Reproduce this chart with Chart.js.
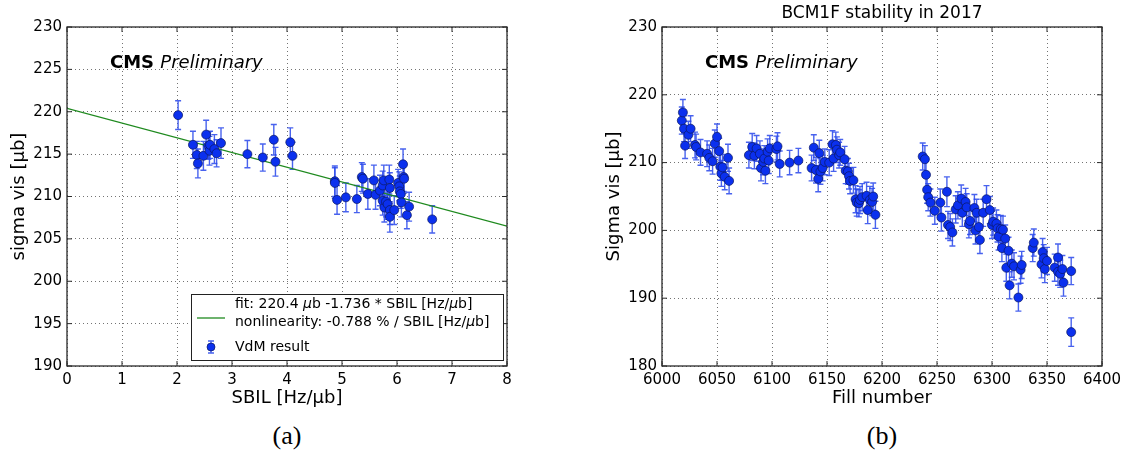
<!DOCTYPE html>
<html><head><meta charset="utf-8">
<script src="https://cdn.jsdelivr.net/npm/chart.js@4/dist/chart.umd.min.js"></script>
<style>
html,body{margin:0;padding:0;background:#fff;overflow:hidden;}
#wrap{position:relative;width:1127px;height:451px;background:#fff;}
canvas{position:absolute;top:0;}
.cap{position:absolute;font-family:"Liberation Serif","Times New Roman",serif;font-size:26px;color:#000;transform:translateX(-50%);top:421px;line-height:30px;}
</style></head><body>
<div id="wrap">
<canvas id="ca" width="560" height="420" style="left:0px;width:560px;height:420px"></canvas>
<canvas id="cb" width="567" height="420" style="left:560px;width:567px;height:420px"></canvas>
<div class="cap" style="left:287px">(a)</div>
<div class="cap" style="left:882px">(b)</div>
</div>
<script>
// ---------- Panel (a): sigma vis vs SBIL ----------
const sbil = [2.02,2.29,2.36,2.38,2.48,2.53,2.57,2.59,2.60,2.68,2.72,2.80,3.28,3.56,3.76,3.79,4.06,4.10,
  4.87,4.87,4.91,5.07,5.27,5.36,5.38,5.47,5.58,5.61,5.69,5.74,5.76,5.74,5.77,5.80,5.83,5.86,5.87,5.87,5.87,
  5.95,6.02,6.04,6.05,6.07,6.08,6.11,6.12,6.13,6.18,6.22,6.64];
const sigmaA = [219.6,216.1,214.9,213.9,214.8,217.3,216.0,215.4,216.1,215.6,215.1,216.3,215.0,214.6,216.7,214.1,216.4,214.8,
  211.8,211.6,209.6,209.9,209.7,212.3,212.1,210.3,211.9,210.2,210.7,211.3,211.9,209.5,208.7,209.4,209.1,212.0,211.0,208.4,207.6,
  208.4,211.6,211.2,210.6,210.3,209.3,213.8,212.3,212.1,207.8,208.8,207.3];
const errA = [1.7,1.6,1.6,1.7,1.7,1.7,1.6,1.7,1.6,1.7,1.6,1.8,1.6,1.6,1.8,1.7,1.7,1.6,
  1.8,1.8,1.7,1.7,1.6,1.7,1.7,1.8,1.8,1.7,1.8,1.7,1.8,1.7,1.7,1.8,1.8,1.7,1.8,1.7,1.8,
  1.7,1.6,1.7,1.8,1.7,1.7,1.8,1.7,1.7,1.6,1.7,1.6];
const fitIntercept = 220.4, fitSlope = -1.736;
const ticksA_x = [0,1,2,3,4,5,6,7,8];
const ticksA_y = [190,195,200,205,210,215,220,225,230];

// ---------- Panel (b): sigma vis vs fill number ----------
const fills = [6018,6019,6020,6021,6024,6026,6030,6031,6035,6041,6043,6046,6048,6050,6052,6053,6054,6055,6057,6060,6061,
  6079,6082,6084,6086,6089,6090,6092,6093,6094,6096,6097,6098,6104,6105,6107,6116,6124,
  6136,6138,6140,6142,6143,6144,6146,6148,6152,6155,6156,6158,6159,6161,6162,6166,6167,6169,6170,6171,6174,
  6176,6177,6179,6180,6182,6186,6187,6189,6191,6192,6194,
  6237,6239,6240,6241,6242,6244,6248,6253,6254,6259,6260,6262,6264,6267,6269,6272,6273,6276,6277,6279,6280,
  6284,6285,6286,6288,6289,6292,6295,6298,6300,6301,6304,6305,6306,6308,6309,6310,6312,6313,6315,6316,6318,6320,
  6324,6326,6327,6337,6338,6345,6346,6347,6348,6350,6357,6360,6360,6362,6364,6365,6372,6372];
const sigmaB = [216.2,217.4,215.0,212.5,214.1,215.0,212.6,212.3,211.5,211.3,210.7,210.2,212.8,213.8,211.7,209.4,208.4,209.3,207.9,210.7,207.3,
  211.1,212.3,211.0,212.1,211.3,209.2,210.1,210.6,208.8,211.6,210.3,212.1,212.0,212.4,209.8,210.0,210.3,
  209.2,212.2,208.9,207.6,211.4,208.7,209.2,210.1,210.0,212.7,210.6,212.6,211.9,211.1,211.5,210.5,208.8,208.7,208.0,207.3,207.4,
  204.6,204.1,204.0,204.5,204.9,205.1,203.0,204.5,204.2,205.0,202.3,
  210.9,210.5,208.2,206.0,204.9,204.1,202.9,204.1,201.9,205.7,200.8,200.5,199.7,203.1,203.7,204.7,202.6,204.2,203.4,200.9,201.4,
  203.3,200.0,202.6,200.5,198.6,202.6,204.6,203.0,200.8,201.3,201.0,200.3,199.1,200.2,197.4,200.1,198.8,194.5,197.0,191.9,195.1,194.7,
  190.1,194.2,194.9,197.4,198.2,195.0,196.8,195.9,194.3,195.5,194.5,196.0,193.9,193.6,194.3,192.3,194.0,185.0];
const errB = [2.0,1.9,1.9,1.9,2.0,1.9,1.9,1.9,1.9,1.9,1.9,1.9,2.0,1.9,1.9,2.0,1.9,1.9,1.9,2.0,1.9,
  1.9,2.0,1.9,1.9,1.9,1.9,1.9,1.9,1.9,1.9,1.9,1.9,1.9,2.0,1.9,1.8,1.8,
  1.9,1.9,1.9,1.9,1.9,1.9,1.9,1.9,1.9,2.0,1.9,1.9,1.9,1.9,1.9,1.9,1.9,1.9,1.9,1.9,1.9,
  2.0,2.0,2.0,2.0,2.0,2.0,2.0,2.0,2.0,2.0,2.0,
  2.0,2.0,2.0,2.0,2.0,2.0,2.0,2.0,2.0,2.2,2.0,2.0,2.0,2.0,2.0,2.0,2.0,2.0,2.0,2.0,2.0,
  2.0,2.0,2.0,2.0,2.0,2.0,2.0,2.0,2.0,2.0,2.0,2.0,2.0,2.0,2.0,2.0,2.0,2.0,2.0,2.0,2.0,2.0,
  2.0,2.0,2.0,2.0,2.0,2.0,2.0,2.0,2.0,2.0,2.0,2.0,2.0,2.0,2.0,2.0,2.0,2.1];
const ticksB_x = [6000,6050,6100,6150,6200,6250,6300,6350,6400];
const ticksB_y = [180,190,200,210,220,230];

const FONT = '"DejaVu Sans", Verdana, sans-serif';
const MARK_FILL = '#0b30ee', MARK_EDGE = '#0a1760', ERR_COL = 'rgba(40,70,235,0.85)';

function pts(xs, ys){ return xs.map((x,i)=>({x:x, y:ys[i]})); }

function drawRich(ctx, x, y, parts, size){
  let cx = x;
  parts.forEach(p=>{
    ctx.font = (p.s||'') + ' ' + size + 'px ' + FONT;
    ctx.fillText(p.t, cx, y);
    cx += ctx.measureText(p.t).width;
  });
}

const decor = {
  id: 'decor',
  beforeDatasetsDraw(chart){
    const {ctx, scales:{x, y}} = chart;
    const ca = chart.chartArea;
    ctx.save();
    ctx.beginPath(); ctx.rect(ca.left, ca.top, ca.right-ca.left, ca.bottom-ca.top); ctx.clip();
    chart.data.datasets.forEach(ds=>{
      if(!ds.errors) return;
      ctx.strokeStyle = ERR_COL; ctx.lineWidth = 1.4;
      ds.data.forEach((p,i)=>{
        const px = x.getPixelForValue(p.x), e = ds.errors[i];
        const y1 = y.getPixelForValue(p.y + e), y2 = y.getPixelForValue(p.y - e);
        ctx.beginPath();
        ctx.moveTo(px, y1); ctx.lineTo(px, y2);
        ctx.moveTo(px-3, y1); ctx.lineTo(px+3, y1);
        ctx.moveTo(px-3, y2); ctx.lineTo(px+3, y2);
        ctx.stroke();
      });
    });
    ctx.restore();
  },
  afterDraw(chart, args, opts){
    const {ctx, scales:{x, y}} = chart;
    const ca = chart.chartArea;
    ctx.save();
    // frame
    ctx.strokeStyle = '#2a2a2a'; ctx.lineWidth = 1.3;
    ctx.strokeRect(ca.left, ca.top, ca.right-ca.left, ca.bottom-ca.top);
    // inward ticks on all sides
    ctx.lineWidth = 1;
    ctx.beginPath();
    opts.xt.forEach(v=>{ const px = x.getPixelForValue(v);
      ctx.moveTo(px, ca.bottom); ctx.lineTo(px, ca.bottom-5);
      ctx.moveTo(px, ca.top); ctx.lineTo(px, ca.top+5); });
    opts.yt.forEach(v=>{ const py = y.getPixelForValue(v);
      ctx.moveTo(ca.left, py); ctx.lineTo(ca.left+5, py);
      ctx.moveTo(ca.right, py); ctx.lineTo(ca.right-5, py); });
    ctx.stroke();
    // CMS Preliminary
    ctx.fillStyle = '#000'; ctx.textBaseline = 'middle'; ctx.textAlign = 'left';
    const cx = ca.left + 43, cy = 63;
    ctx.font = 'bold 18px ' + FONT;
    ctx.fillText('CMS', cx, cy);
    const w = ctx.measureText('CMS ').width;
    ctx.font = 'italic 18px ' + FONT;
    ctx.fillText('Preliminary', cx + w, cy);
    // title
    if(opts.title){
      ctx.font = '17px ' + FONT; ctx.textAlign = 'center';
      ctx.fillText(opts.title, (ca.left+ca.right)/2, 14);
      ctx.textAlign = 'left';
    }
    // legend
    if(opts.legend){
      const bx = 191, by = 294, bw = 312, bh = 66;
      ctx.fillStyle = '#fff'; ctx.fillRect(bx, by, bw, bh);
      ctx.strokeStyle = '#222'; ctx.lineWidth = 1; ctx.strokeRect(bx+0.5, by+0.5, bw, bh);
      ctx.strokeStyle = '#1f8a1f'; ctx.lineWidth = 1.3;
      ctx.beginPath(); ctx.moveTo(197, 318); ctx.lineTo(225, 318); ctx.stroke();
      ctx.fillStyle = '#000';
      drawRich(ctx, 235, 304, [{t:'fit: ' + fitIntercept.toFixed(1) + ' '},{t:'\u03bc', s:'italic'},{t:'b ' + fitSlope.toFixed(3) + ' * SBIL [Hz/'},{t:'\u03bc', s:'italic'},{t:'b]'}], 14);
      drawRich(ctx, 235, 322, [{t:'nonlinearity: -0.788 % / SBIL [Hz/'},{t:'\u03bc', s:'italic'},{t:'b]'}], 14);
      drawRich(ctx, 235, 347, [{t:'VdM result'}], 14);
      ctx.strokeStyle = ERR_COL; ctx.lineWidth = 1.4;
      ctx.beginPath(); ctx.moveTo(211, 341); ctx.lineTo(211, 353);
      ctx.moveTo(208, 341); ctx.lineTo(214, 341); ctx.moveTo(208, 353); ctx.lineTo(214, 353); ctx.stroke();
      ctx.fillStyle = MARK_FILL; ctx.strokeStyle = MARK_EDGE; ctx.lineWidth = 0.7;
      ctx.beginPath(); ctx.arc(211, 347, 4, 0, Math.PI*2); ctx.fill(); ctx.stroke();
    }
    ctx.restore();
  }
};

function axisCommon(min, max, ticks){
  return {
    type: 'linear', min: min, max: max,
    afterBuildTicks: s => { s.ticks = ticks.map(v=>({value:v})); },
    grid: { color: 'rgba(0,0,0,0.55)', lineWidth: 1, drawTicks: false, borderDash:[1,3] },
    border: { display: false, dash: [1,3] },
    ticks: { color: '#000', font: { family: FONT, size: 15 }, padding: 5, maxRotation: 0, autoSkip: false,
      callback: v => String(v) },
  };
}

function makeChart(id, opts){
  const xs = axisCommon(opts.xmin, opts.xmax, opts.xt);
  xs.position = 'bottom';
  xs.afterFit = s => { s.height = 54; };
  xs.title = { display: true, text: opts.xlabel, color: '#000', font: { family: FONT, size: 18 }, padding: { top: 0, bottom: 11 } };
  const ys = axisCommon(opts.ymin, opts.ymax, opts.yt);
  ys.position = 'left';
  ys.afterFit = s => { s.width = opts.yw; };
  ys.title = { display: true, text: opts.ylabel, color: '#000', font: { family: FONT, size: 18 }, padding: { top: opts.ytp, bottom: 0 } };
  return new Chart(document.getElementById(id), {
    type: 'scatter',
    data: { datasets: opts.datasets },
    options: {
      responsive: false, animation: false, devicePixelRatio: 1,
      layout: { autoPadding: false, padding: { left: 0, top: 27, right: opts.pr, bottom: 0 } },
      scales: { x: xs, y: ys },
      plugins: { legend: { display: false }, tooltip: { enabled: false },
        decor: { xt: opts.xt, yt: opts.yt, title: opts.title, legend: opts.legend } }
    },
    plugins: [decor]
  });
}

makeChart('ca', {
  xmin: 0, xmax: 8, ymin: 190, ymax: 230, xt: ticksA_x, yt: ticksA_y,
  xlabel: 'SBIL [Hz/\u03bcb]', ylabel: 'sigma vis [\u03bcb]', yw: 67, ytp: 9, pr: 53, legend: true,
  datasets: [
    { label: 'VdM result', data: pts(sbil, sigmaA), errors: errA, order: 1,
      pointRadius: 4.5, pointBackgroundColor: MARK_FILL, pointBorderColor: MARK_EDGE, pointBorderWidth: 0.7, showLine: false },
    { type: 'line', label: 'fit', order: 2,
      data: [{x: 0, y: fitIntercept}, {x: 8, y: fitIntercept + fitSlope * 8}],
      borderColor: '#1f8a1f', borderWidth: 1.3, pointRadius: 0, showLine: true, fill: false }
  ]
});

makeChart('cb', {
  xmin: 6000, xmax: 6400, ymin: 180, ymax: 230, xt: ticksB_x, yt: ticksB_y,
  xlabel: 'Fill number', ylabel: 'Sigma vis [\u03bcb]', yw: 102, ytp: 44, pr: 25, legend: false,
  title: 'BCM1F stability in 2017',
  datasets: [
    { label: 'BCM1F', data: pts(fills, sigmaB), errors: errB,
      pointRadius: 4.5, pointBackgroundColor: MARK_FILL, pointBorderColor: MARK_EDGE, pointBorderWidth: 0.7, showLine: false }
  ]
});
</script>
</body></html>
